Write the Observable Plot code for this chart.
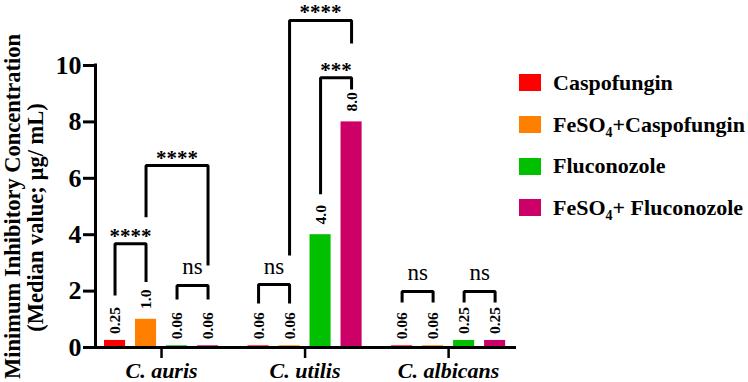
<!DOCTYPE html>
<html><head><meta charset="utf-8">
<script src="https://cdn.jsdelivr.net/npm/d3@7"></script>
<script src="https://cdn.jsdelivr.net/npm/@observablehq/plot@0.6"></script>
<style>
body{margin:0;background:#fff;}
#wrap{position:relative;width:748px;height:382px;font-family:"Liberation Serif","Times New Roman",serif;}
#legend{position:absolute;left:519px;top:62px;}
.row{display:flex;align-items:center;height:41.7px;font-weight:bold;font-size:22px;color:#000;white-space:nowrap;}
.sw{width:22px;height:17px;margin-right:12px;flex:none;}
.row sub{font-size:14px;vertical-align:-5px;line-height:0;}
</style></head><body><div id="wrap"><div id="legend"></div></div>
<script>
const species = ["C. auris", "C. utilis", "C. albicans"];
const treatments = ["Caspofungin", "FeSO4+Caspofungin", "Fluconozole", "FeSO4+ Fluconozole"];
const colors = ["#ff0000", "#ff8000", "#00c000", "#cc0066"];
const aurisValues = [0.25, 1.0, 0.06, 0.06];
const utilisValues = [0.06, 0.06, 4.0, 8.0];
const albicansValues = [0.06, 0.06, 0.25, 0.25];
const aurisLabels = ["0.25", "1.0", "0.06", "0.06"];
const utilisLabels = ["0.06", "0.06", "4.0", "8.0"];
const albicansLabels = ["0.06", "0.06", "0.25", "0.25"];
const yTicks = [0, 2, 4, 6, 8, 10];
// significance brackets: species index, treatment a/b, bracket top, leg ends (data units), label
const comparisons = [
  {s: 0, a: 0, b: 1, top: 3.68, footA: 1.84, footB: 2.32, label: "****"},
  {s: 0, a: 1, b: 3, top: 6.45, footA: 4.62, footB: 2.91, label: "****"},
  {s: 0, a: 2, b: 3, top: 2.2, footA: 1.7, footB: 1.7, label: "ns"},
  {s: 1, a: 0, b: 1, top: 2.23, footA: 1.56, footB: 1.56, label: "ns"},
  {s: 1, a: 1, b: 3, top: 11.6, footA: 3.26, footB: 10.78, label: "****"},
  {s: 1, a: 2, b: 3, top: 9.57, footA: 5.43, footB: 9.15, label: "***"},
  {s: 2, a: 0, b: 1, top: 1.99, footA: 1.6, footB: 1.6, label: "ns"},
  {s: 2, a: 2, b: 3, top: 1.99, footA: 1.6, footB: 1.6, label: "ns"}
];

const groupStep = 4.63, barW = 0.68;
const xmin = -2.13, xmax = 2 * groupStep + 2.19;
const pos = (g, i) => g * groupStep + i - 1.5;
const allValues = [aurisValues, utilisValues, albicansValues];
const allLabels = [aurisLabels, utilisLabels, albicansLabels];
const bars = species.flatMap((s, g) => treatments.map((t, i) => ({
  species: s, treatment: t, value: allValues[g][i], label: allLabels[g][i], x: pos(g, i)
})));
const groupCenters = species.map((s, g) => g * groupStep);
const bracketPts = comparisons.flatMap((c, k) => [
  {k, x: pos(c.s, c.a), y: c.footA},
  {k, x: pos(c.s, c.a), y: c.top},
  {k, x: pos(c.s, c.b), y: c.top},
  {k, x: pos(c.s, c.b), y: c.footB}
]);
const labelsPos = comparisons.map(c => ({x: (pos(c.s, c.a) + pos(c.s, c.b)) / 2, y: c.top, label: c.label}));
const font = '"Liberation Serif","Times New Roman",serif';

const chart = Plot.plot({
  width: 748, height: 382,
  marginLeft: 95, marginRight: 232, marginTop: 65, marginBottom: 35,
  style: {fontFamily: font, background: "white", overflow: "visible", color: "black"},
  x: {type: "linear", domain: [xmin, xmax]},
  y: {domain: [0, 10]},
  color: {domain: treatments, range: colors},
  marks: [
    Plot.rect(bars, {x1: d => d.x - barW / 2, x2: d => d.x + barW / 2, y1: 0, y2: "value", fill: "treatment"}),
    Plot.ruleY([0], {strokeWidth: 3}),
    Plot.ruleX([xmin], {y1: 0, y2: 10, strokeWidth: 3, strokeLinecap: "square"}),
    Plot.axisY({ticks: yTicks, tickSize: 12, tickPadding: 2, fontSize: 26, fontWeight: "bold", strokeWidth: 3, label: null}),
    Plot.axisX({ticks: groupCenters, tickFormat: (d, i) => species[i], tickSize: 11, tickPadding: 4, fontSize: 22, fontWeight: "bold", fontStyle: "italic", strokeWidth: 2.5, label: null}),
    Plot.text(bars, {x: "x", y: "value", text: "label", rotate: -90, dy: -20, fontSize: 15.5, fontWeight: "bold"}),
    Plot.line(bracketPts, {x: "x", y: "y", z: "k", stroke: "black", strokeWidth: 3, strokeLinejoin: "miter", strokeLinecap: "butt"}),
    Plot.text(labelsPos.filter(d => d.label !== "ns"), {x: "x", y: "y", text: "label", lineAnchor: "bottom", dy: -1, fontSize: 21, fontWeight: "bold"}),
    Plot.text(labelsPos.filter(d => d.label === "ns"), {x: "x", y: "y", text: "label", lineAnchor: "bottom", dy: -11, fontSize: 23}),
    Plot.text(["Minimum Inhibitory Concentration"], {frameAnchor: "left", textAnchor: "middle", rotate: -90, dx: -83, fontSize: 22.5, fontWeight: "bold"}),
    Plot.text(["(Median value; µg/ mL)"], {frameAnchor: "left", textAnchor: "middle", rotate: -90, dx: -60, dy: 11, fontSize: 22.5, fontWeight: "bold"})
  ]
});
const wrap = document.getElementById("wrap");
wrap.insertBefore(chart, wrap.firstChild);

const legend = document.getElementById("legend");
treatments.forEach((t, i) => {
  const row = document.createElement("div");
  row.className = "row";
  const sw = document.createElement("div");
  sw.className = "sw";
  sw.style.background = colors[i];
  const lab = document.createElement("span");
  lab.innerHTML = t.replace("FeSO4", "FeSO<sub>4</sub>");
  row.appendChild(sw);
  row.appendChild(lab);
  legend.appendChild(row);
});
</script></body></html>
